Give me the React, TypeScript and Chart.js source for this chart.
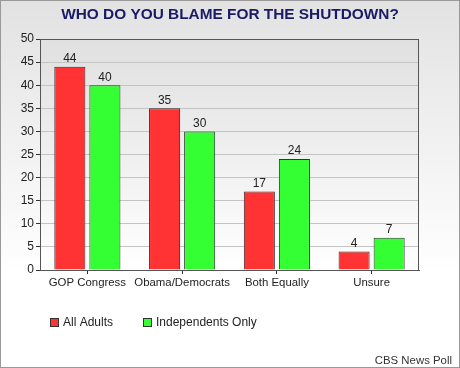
import React, { useEffect, useRef } from "react";
import { Chart, registerables } from "chart.js";

Chart.register(...registerables);

const categories = ["GOP Congress", "Obama/Democrats", "Both Equally", "Unsure"];
const allAdults = [44, 35, 17, 4];
const independentsOnly = [40, 30, 24, 7];
const seriesNames = ["All Adults", "Independents Only"];
const titleText = "WHO DO YOU BLAME FOR THE SHUTDOWN?";
const sourceText = "CBS News Poll";
const yMax = 50;
const yStep = 5;

const FONT = "'Liberation Sans', Arial, sans-serif";

const decorPlugin = {
  id: "decor",
  beforeDraw(chart: any) {
    const { ctx, width, height, chartArea } = chart;
    ctx.save();
    const g = ctx.createLinearGradient(0, 0, 0, height);
    g.addColorStop(0, "#e2e2e2");
    g.addColorStop(0.75, "#ffffff");
    g.addColorStop(1, "#ffffff");
    ctx.fillStyle = g;
    ctx.fillRect(0, 0, width, height);
    const pg = ctx.createLinearGradient(0, chartArea.top, 0, chartArea.bottom);
    pg.addColorStop(0, "#e0e0e0");
    pg.addColorStop(1, "#ffffff");
    ctx.fillStyle = pg;
    ctx.fillRect(chartArea.left, chartArea.top, chartArea.right - chartArea.left, chartArea.bottom - chartArea.top);
    ctx.restore();
  },
  afterDraw(chart: any) {
    const { ctx, width, height, chartArea } = chart;
    ctx.save();
    // plot border
    ctx.strokeStyle = "#555";
    ctx.lineWidth = 1;
    ctx.strokeRect(Math.round(chartArea.left) + 0.5, Math.round(chartArea.top) + 0.5,
      Math.round(chartArea.right - chartArea.left) - 1, Math.round(chartArea.bottom - chartArea.top));
    // title
    ctx.fillStyle = "#1a1a66";
    ctx.font = `bold 15.4px ${FONT}`;
    ctx.textAlign = "center";
    ctx.textBaseline = "middle";
    ctx.fillText(titleText, 230, 15);
    // data labels
    ctx.font = `12px ${FONT}`;
    ctx.fillStyle = "#222";
    ctx.textBaseline = "bottom";
    chart.data.datasets.forEach((ds: any, i: number) => {
      const meta = chart.getDatasetMeta(i);
      meta.data.forEach((bar: any, j: number) => {
        ctx.fillText(String(ds.data[j]), bar.x, bar.y - 2);
      });
    });
    // legend
    ctx.font = `12px ${FONT}`;
    ctx.textAlign = "left";
    ctx.textBaseline = "middle";
    const legendX = [50, 143];
    chart.data.datasets.forEach((ds: any, i: number) => {
      const x = legendX[i];
      const y = 318;
      ctx.fillStyle = ds.backgroundColor;
      ctx.fillRect(x, y, 8, 8);
      ctx.strokeStyle = "#333";
      ctx.strokeRect(x + 0.5, y + 0.5, 8, 8);
      ctx.fillStyle = "#222";
      ctx.fillText(ds.label, x + 13, y + 5);
    });
    // source
    ctx.font = `11.4px ${FONT}`;
    ctx.fillStyle = "#333";
    ctx.textAlign = "right";
    ctx.textBaseline = "alphabetic";
    ctx.fillText(sourceText, 452, 364);
    // outer border
    ctx.strokeStyle = "#999";
    ctx.strokeRect(0.5, 0.5, width - 1, height - 1);
    ctx.restore();
  },
};

export default function App() {
  const ref = useRef<HTMLCanvasElement>(null);
  useEffect(() => {
    if (!ref.current) return;
    const chart = new Chart(ref.current, {
      type: "bar",
      data: {
        labels: categories,
        datasets: [
          {
            label: seriesNames[0],
            data: allAdults,
            backgroundColor: "#ff3333",
            borderColor: "#3a2a2a",
            borderWidth: 1,
            categoryPercentage: 0.74,
            barPercentage: 0.886,
          },
          {
            label: seriesNames[1],
            data: independentsOnly,
            backgroundColor: "#33ff33",
            borderColor: "#2a3a2a",
            borderWidth: 1,
            categoryPercentage: 0.74,
            barPercentage: 0.886,
          },
        ],
      },
      options: {
        responsive: false,
        animation: false,
        layout: { padding: { left: 0, right: 41, top: 39, bottom: 78 } },
        plugins: {
          legend: { display: false },
          tooltip: { enabled: false },
          title: { display: false },
        },
        scales: {
          x: {
            afterFit: (s: any) => { s.height = 20; },
            grid: {
              offset: false,
              drawOnChartArea: false,
              drawTicks: true,
              tickLength: 4,
              tickColor: "#333",
            },
            border: { color: "#555", width: 1 },
            ticks: {
              color: "#222",
              font: { family: FONT, size: 11.4 },
              padding: 2,
              maxRotation: 0,
              autoSkip: false,
            },
          },
          y: {
            min: 0,
            max: yMax,
            afterFit: (s: any) => { s.width = 40; },
            grid: {
              color: "#c4c4c4",
              tickColor: "#333",
              tickLength: 4,
            },
            border: { color: "#555", width: 1 },
            ticks: {
              stepSize: yStep,
              color: "#222",
              font: { family: FONT, size: 12 },
              padding: 2,
            },
          },
        },
      },
      plugins: [decorPlugin],
    } as any);
    return () => chart.destroy();
  }, []);
  return (
    <div style={{ position: "fixed", left: 0, top: 0, width: 460, height: 368 }}>
      <canvas ref={ref} width={460} height={368} />
    </div>
  );
}
